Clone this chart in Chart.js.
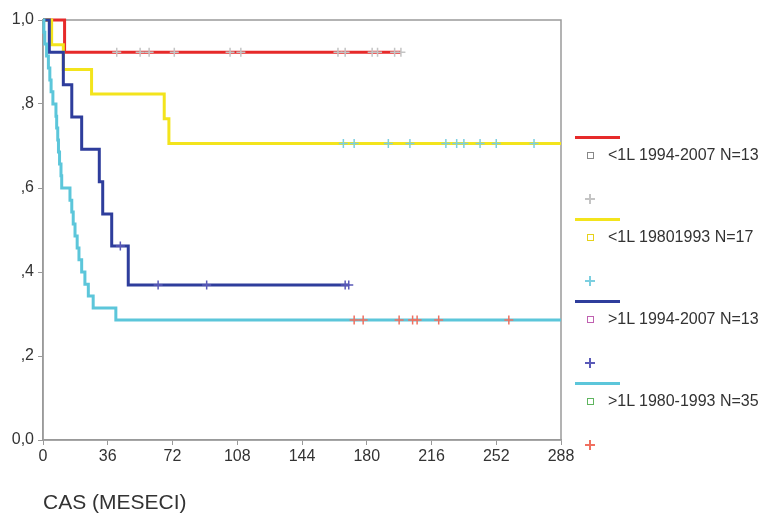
<!DOCTYPE html>
<html>
<head>
<meta charset="utf-8">
<script src="https://cdn.jsdelivr.net/npm/chart.js@4.4.1/dist/chart.umd.min.js"></script>
<style>
  body { margin: 0; background: #fff; }
  #wrap { position: relative; width: 768px; height: 516px; }
  #legend { position: absolute; left: 0; top: 0; width: 768px; height: 516px; pointer-events: none;
    font-family: "Liberation Sans", Arial, sans-serif; font-size: 16px; color: #333; }
  .lg-line { position: absolute; left: 575px; width: 45px; height: 0; border-top: 3px solid; }
  .lg-box { position: absolute; left: 587px; width: 5px; height: 5px; border: 1px solid; }
  .lg-text { position: absolute; left: 608px; line-height: 18px; white-space: nowrap; }
  .lg-cross { position: absolute; left: 585px; width: 10px; height: 10px; }
  .lg-cross div { position: absolute; }
</style>
</head>
<body>
<div id="wrap">
  <canvas id="kmChart" width="768" height="516"></canvas>
  <div id="legend"></div>
</div>
<script>
// --- data (months, survival) ---
const monthTicks = [0, 36, 72, 108, 144, 180, 216, 252, 288];
const survTicks = [0, 0.2, 0.4, 0.6, 0.8, 1];

const groupNames = ['<1L 1994-2007 N=13', '<1L 19801993 N=17', '>1L 1994-2007 N=13', '>1L 1980-1993 N=35'];

const redTimes = [0, 12];
const redSurv = [1, 0.923];
const redCensor = [41, 54, 59, 73, 104, 110, 164, 168, 183, 186, 195.5, 199];
const redEnd = 199;

const yellowTimes = [0, 4.8, 11.3, 27, 67.4, 70];
const yellowSurv = [1, 0.941, 0.882, 0.824, 0.765, 0.706];
const yellowCensor = [167, 173, 192, 204, 224, 230, 234, 243, 252, 273];
const yellowEnd = 288;

const blueTimes = [0, 3.5, 11.3, 16, 21.5, 31.3, 33.2, 38.2, 47.4];
const blueSurv = [1, 0.923, 0.846, 0.769, 0.692, 0.615, 0.538, 0.462, 0.369];
const blueCensor = [43, 64, 91, 168, 170];
const blueEnd = 170;

const cyanTimes = [0, 0.5, 1, 2, 3, 3.8, 4.5, 5.5, 7.2, 7.6, 8.2, 8.6, 9.2, 10, 10.4,
  15, 16, 16.8, 17.8, 19, 20, 21.5, 23.3, 25.2, 27.9, 40.5];
const cyanSurv = [1, 0.971, 0.943, 0.914, 0.886, 0.857, 0.829, 0.8, 0.771, 0.743, 0.714, 0.686, 0.657, 0.629, 0.6,
  0.571, 0.543, 0.514, 0.486, 0.457, 0.429, 0.4, 0.371, 0.343, 0.314, 0.286];
const cyanCensor = [173, 178, 198, 205.5, 208, 220, 259];
const cyanEnd = 288;

const lineColors = ['#e62a2a', '#f3e41c', '#2e3d9c', '#5cc6da'];
const boxColors = ['#888888', '#e6d21a', '#c060b0', '#5fb55f'];
const crossColors = ['#c4c4c4', '#7ccfe0', '#5a5ab8', '#f07060'];

function steps(times, surv, end) {
    const pts = times.map((t, i) => ({ x: t, y: surv[i] }));
    pts.push({ x: end, y: surv[surv.length - 1] });
    return pts;
}

function marks(times, surv, censor) {
    return censor.map(c => {
        let y = surv[0];
        times.forEach((t, i) => { if (t <= c) y = surv[i]; });
        return { x: c, y: y };
    });
}

const groups = [
    [redTimes, redSurv, redCensor, redEnd],
    [yellowTimes, yellowSurv, yellowCensor, yellowEnd],
    [blueTimes, blueSurv, blueCensor, blueEnd],
    [cyanTimes, cyanSurv, cyanCensor, cyanEnd]
];

const datasets = [];
groups.forEach((g, i) => {
    datasets.push({
        label: groupNames[i],
        data: steps(g[0], g[1], g[3]),
        stepped: 'before',
        borderColor: lineColors[i],
        borderWidth: 3,
        pointRadius: 0,
        fill: false,
        clip: false,
        order: 10 - i
    });
    datasets.push({
        label: groupNames[i] + ' censored',
        data: marks(g[0], g[1], g[2]),
        showLine: false,
        pointStyle: 'cross',
        pointRadius: 4.5,
        borderWidth: 1.5,
        borderColor: crossColors[i],
        clip: false,
        order: 0
    });
});

// gray frame around the plot area
const framePlugin = {
    id: 'frame',
    beforeDatasetsDraw(chart) {
        const a = chart.chartArea;
        const ctx = chart.ctx;
        ctx.save();
        ctx.strokeStyle = '#9a9a9a';
        ctx.lineWidth = 1.5;
        ctx.strokeRect(a.left, a.top, a.right - a.left, a.bottom - a.top);
        ctx.restore();
    }
};

const tickFont = { family: '"Liberation Sans", Arial, sans-serif', size: 16 };

new Chart(document.getElementById('kmChart'), {
    type: 'line',
    data: { datasets: datasets },
    options: {
        responsive: false,
        animation: false,
        layout: { padding: { top: 20, right: 207, left: 0, bottom: 0 } },
        plugins: { legend: { display: false }, tooltip: { enabled: false } },
        scales: {
            x: {
                type: 'linear',
                min: 0,
                max: 288,
                afterBuildTicks: (scale) => { scale.ticks = monthTicks.map(v => ({ value: v })); },
                afterFit: (scale) => { scale.height = 76; },
                ticks: { color: '#333', font: tickFont, padding: 2, maxRotation: 0 },
                grid: { display: true, drawOnChartArea: false, tickLength: 5, color: '#999' },
                border: { color: '#999', width: 1.5 },
                title: {
                    display: true,
                    text: 'CAS (MESECI)',
                    align: 'start',
                    color: '#333',
                    font: { family: '"Liberation Sans", Arial, sans-serif', size: 21 },
                    padding: { top: 0, bottom: 0 }
                }
            },
            y: {
                min: 0,
                max: 1,
                afterBuildTicks: (scale) => { scale.ticks = survTicks.map(v => ({ value: v })); },
                afterFit: (scale) => { scale.width = 43; },
                ticks: {
                    color: '#333',
                    font: tickFont,
                    padding: 4,
                    callback: (v) => v === 1 ? '1,0' : (v === 0 ? '0,0' : ',' + Math.round(v * 10))
                },
                grid: { display: true, drawOnChartArea: false, tickLength: 5, color: '#999' },
                border: { color: '#999', width: 1.5 }
            }
        }
    },
    plugins: [framePlugin]
});

// --- legend ---
const legend = document.getElementById('legend');
groupNames.forEach((name, i) => {
    const top = 136 + 82 * i;
    const c = crossColors[i];
    legend.insertAdjacentHTML('beforeend',
        '<div class="lg-line" style="top:' + top + 'px;border-color:' + lineColors[i] + '"></div>' +
        '<div class="lg-box" style="top:' + (top + 16) + 'px;border-color:' + boxColors[i] + '"></div>' +
        '<div class="lg-text" style="top:' + (top + 10) + 'px">' + name.replace('<', '&lt;').replace('>', '&gt;') + '</div>' +
        '<div class="lg-cross" style="top:' + (top + 58) + 'px">' +
        '<div style="left:4px;top:0;width:2px;height:10px;background:' + c + '"></div>' +
        '<div style="left:0;top:4px;width:10px;height:2px;background:' + c + '"></div></div>');
});
</script>
</body>
</html>
